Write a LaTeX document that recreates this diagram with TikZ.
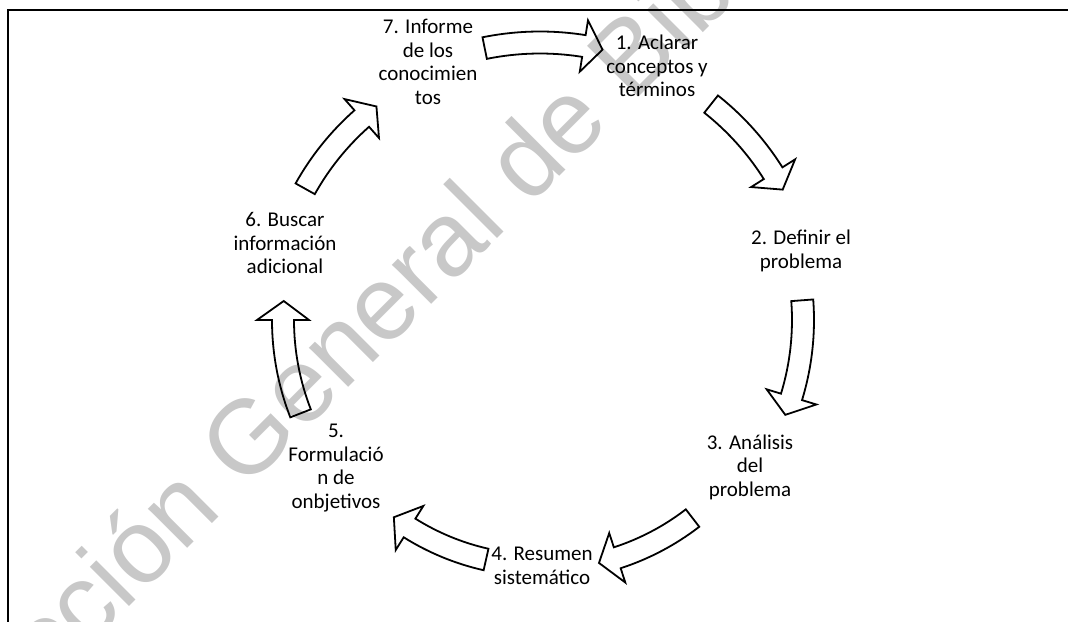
\documentclass[tikz,border=0pt]{standalone}
\usepackage{fontspec}
\setmainfont{Carlito}
\newfontfamily\wmfont{Liberation Sans}
\usetikzlibrary{math}
\definecolor{wmgray}{RGB}{200,200,200}

\begin{document}
\begin{tikzpicture}[x=1pt,y=-1pt,
  stage/.style={align=center,inner sep=0pt,font=\fontsize{21}{23.5}\selectfont},
  band/.style={line width=1.8pt}]
\tikzmath{
\W=11; \H=26; \T=19;
}
\useasboundingbox (0,0) rectangle (1068,621);
\clip (0,0) rectangle (1068,621);

\node[wmgray,rotate=45,anchor=base west,font=\wmfont\fontsize{105}{105}\selectfont] (wm) at (-88,824) {Dirección General de Bibliotecas};

\draw[line width=1.6pt] (8,660) -- (8,10) -- (1100,10);

\node[stage] (s1) at (657,66) {1. Aclarar\\conceptos y\\términos};
\node[stage] (s2) at (801,251) {2. Definir el\\problema};
\node[stage] (s3) at (750,467) {3. Análisis\\del\\problema};
\node[stage] (s4) at (542,566) {4. Resumen\\sistemático};
\node[stage] (s5) at (336,468) {5.\\Formulació\\n de\\onbjetivos};
\node[stage] (s6) at (285,243) {6. Buscar\\información\\adicional};
\node[stage] (s7) at (428,62) {7. Informe\\de los\\conocimien\\tos};

\begin{scope}[shift={(540,320)}]
\foreach \r/\a/\b in {277.5/-101.5/-80.9, 275.5/-51.6/-32.2, 263/-4.3/17, 250/52.4/72,
    245.5/102.7/122.1, 257/158.7/180, 269/209.2/228.5}
  \draw[band] ({\a}:{\r+\W}) arc[start angle=\a, end angle=\b, radius=\r+\W]
    -- ({\b}:{\r+\H}) -- ({\b+\T*57.3/\r}:{\r}) -- ({\b}:{\r-\H})
    -- ({\b}:{\r-\W}) arc[start angle=\b, end angle=\a, radius=\r-\W] -- cycle;
\end{scope}

\end{tikzpicture}
\end{document}
